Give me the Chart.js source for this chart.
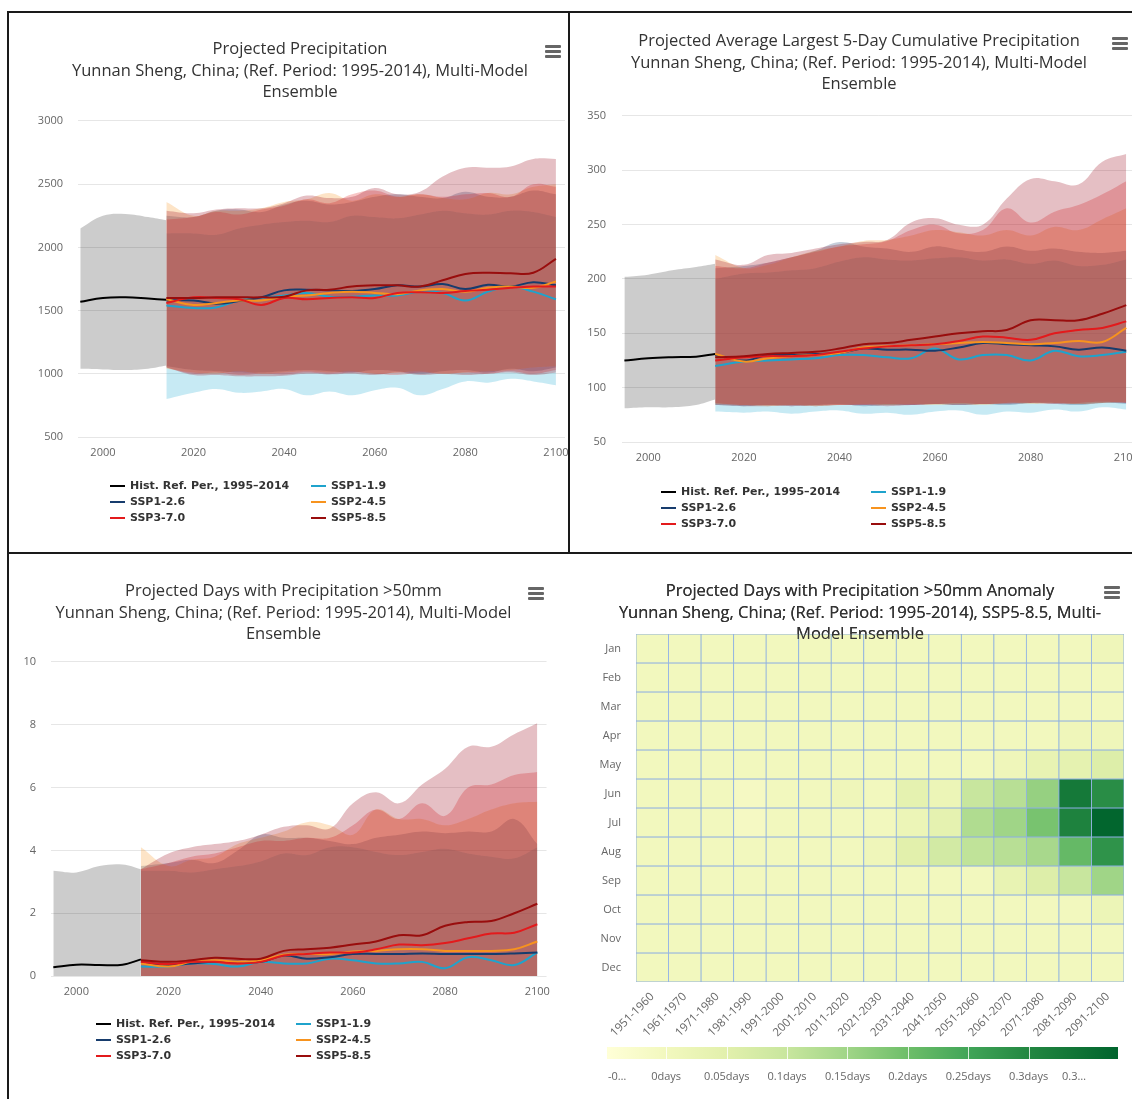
<!DOCTYPE html>
<html>
<head>
<meta charset="utf-8">
<script src="https://cdn.jsdelivr.net/npm/chart.js@4.4.1/dist/chart.umd.min.js"></script>
<style>
  html, body { margin: 0; padding: 0; background: #fff; overflow: hidden; }
  body { width: 1132px; height: 1099px; position: relative; font-family: 'Open Sans', sans-serif; }
  canvas { position: absolute; }
  .rule { position: absolute; background: #1a1a1a; }
  .menu { position: absolute; width: 16px; }
  .menu i { display: block; height: 3px; margin-bottom: 2px; background: #666; border-radius: 1px; }
  .legend { position: absolute; display: grid; font: bold 11px 'DejaVu Sans', sans-serif; color: #333; line-height: 16px; }
  .legend span { display: flex; align-items: center; white-space: nowrap; }
  .legend b { display: inline-block; width: 15px; height: 2px; margin-right: 5px; }
  .cb { position: absolute; left: 607px; top: 1047px; width: 511px; height: 12px; }
  .cb i { position: absolute; top: 0; width: 1px; height: 12px; background: rgba(255,255,255,0.8); }
  .cb-label { position: absolute; top: 1068px; font-size: 11px; line-height: 15px; color: #666; white-space: nowrap; }
</style>
</head>
<body>
<div class="rule" style="left:7px;top:11px;width:1125px;height:2px"></div>
<div class="rule" style="left:7px;top:11px;width:2px;height:1088px"></div>
<div class="rule" style="left:568px;top:11px;width:2px;height:543px"></div>
<div class="rule" style="left:7px;top:552px;width:1125px;height:2px"></div>

<canvas id="c1" width="584" height="541" style="left:8px;top:12px"></canvas>
<canvas id="c2" width="578" height="541" style="left:570px;top:12px"></canvas>
<canvas id="c3" width="551" height="544" style="left:8px;top:555px"></canvas>
<canvas id="c4" width="580" height="544" style="left:570px;top:555px"></canvas>

<div class="menu" style="left:545px;top:45px"><i></i><i></i><i></i></div>
<div class="menu" style="left:1112px;top:37px"><i></i><i></i><i></i></div>
<div class="menu" style="left:528px;top:587px"><i></i><i></i><i></i></div>
<div class="menu" style="left:1104px;top:586px"><i></i><i></i><i></i></div>

<div id="cb" class="cb"></div>

<script>
Chart.defaults.font.family = "'Open Sans', sans-serif";

// shared x positions of the series
const histYears = [1995, 2000, 2005, 2010, 2014];
const projYears = [2014, 2020, 2025, 2030, 2035, 2040, 2045, 2050, 2055, 2060, 2065, 2070, 2075, 2080, 2085, 2090, 2095, 2100];
const xTicks = [2000, 2020, 2040, 2060, 2080, 2100];
const seriesNames = ['Hist. Ref. Per., 1995–2014', 'SSP1-1.9', 'SSP1-2.6', 'SSP2-4.5', 'SSP3-7.0', 'SSP5-8.5'];
const lineColors = ['#000000', '#1fa3cc', '#173c6d', '#f7931e', '#e31a1c', '#990d0d'];
const bandColors = ['rgba(0,0,0,0.2)', 'rgba(30,170,210,0.25)', 'rgba(23,60,109,0.25)', 'rgba(247,147,30,0.25)', 'rgba(227,26,28,0.25)', 'rgba(153,0,20,0.25)'];

// panel 1: projected precipitation (mm) -- rows: hist, 119, 126, 245, 370, 585
const prMean = [
  [1570, 1600, 1605, 1595, 1585],
  [1540, 1520, 1525, 1580, 1600, 1620, 1640, 1610, 1610, 1620, 1620, 1650, 1640, 1580, 1650, 1690, 1650, 1590],
  [1580, 1580, 1555, 1575, 1605, 1660, 1665, 1660, 1655, 1670, 1700, 1690, 1710, 1670, 1705, 1690, 1725, 1700],
  [1590, 1545, 1560, 1580, 1580, 1610, 1620, 1640, 1650, 1640, 1630, 1660, 1670, 1650, 1680, 1690, 1680, 1730],
  [1560, 1605, 1600, 1590, 1545, 1600, 1590, 1600, 1605, 1600, 1640, 1645, 1640, 1655, 1665, 1680, 1690, 1690],
  [1600, 1600, 1605, 1605, 1605, 1610, 1660, 1665, 1690, 1700, 1700, 1690, 1740, 1790, 1800, 1795, 1800, 1910]
];
const prHigh = [
  [2150, 2250, 2265, 2240, 2215],
  [2110, 2110, 2100, 2150, 2180, 2200, 2210, 2200, 2250, 2240, 2230, 2260, 2290, 2270, 2260, 2290, 2280, 2240],
  [2250, 2240, 2290, 2300, 2280, 2340, 2370, 2340, 2360, 2400, 2420, 2400, 2390, 2440, 2400, 2400, 2450, 2420],
  [2360, 2250, 2290, 2290, 2310, 2360, 2380, 2430, 2370, 2420, 2400, 2420, 2390, 2380, 2430, 2420, 2480, 2500],
  [2220, 2240, 2280, 2260, 2300, 2330, 2380, 2350, 2420, 2450, 2400, 2420, 2400, 2420, 2430, 2400, 2500, 2480],
  [2290, 2270, 2300, 2310, 2310, 2350, 2410, 2390, 2400, 2470, 2420, 2440, 2560, 2630, 2630, 2640, 2700, 2700]
];
const prLow = [
  [1040, 1035, 1030, 1040, 1065],
  [800, 850, 880, 850, 860, 880, 830, 860, 830, 870, 890, 830, 880, 940, 930, 960, 940, 910],
  [1060, 1030, 1020, 1010, 1010, 1020, 1030, 1020, 1010, 1030, 1020, 1000, 1020, 1030, 1010, 1040, 1020, 1050],
  [1040, 1010, 1000, 1020, 1000, 1010, 1020, 1010, 1020, 1000, 1010, 1020, 1000, 1010, 1020, 1030, 1050, 1060],
  [1050, 1000, 1010, 990, 1000, 995, 1010, 1000, 1010, 1000, 990, 1010, 1000, 1010, 1000, 1020, 1000, 1030],
  [1050, 990, 990, 980, 980, 985, 1000, 995, 1000, 990, 1010, 990, 1000, 990, 1000, 1010, 990, 1010]
];

// panel 2: average largest 5-day cumulative precipitation (mm)
const rx5Mean = [
  [125, 127, 128, 128.5, 131],
  [120, 124, 125, 126, 127, 130, 130, 128, 127, 136, 126, 130, 130, 125, 134, 129, 130, 133],
  [130, 125, 130, 130, 131, 132, 136, 135, 135, 134, 137, 141, 140, 139, 138, 135, 137, 134],
  [131, 124, 127, 129, 130, 132, 137, 138, 139, 140, 141, 142, 141, 140, 141, 143, 142, 155],
  [125, 128, 129, 129, 130, 133, 136, 138, 139, 140, 143, 147, 146, 144, 150, 153, 155, 161],
  [128, 129, 131, 132, 133, 136, 140, 141, 144, 147, 150, 152, 153, 162, 162, 162, 168, 176]
];
const rx5High = [
  [202, 204, 208, 211, 214],
  [200, 205, 206, 208, 210, 216, 220, 218, 217, 219, 220, 217, 218, 214, 217, 212, 213, 218],
  [210, 212, 215, 220, 226, 234, 230, 228, 225, 230, 227, 225, 230, 226, 228, 225, 224, 226],
  [222, 210, 213, 220, 226, 230, 235, 236, 240, 245, 243, 240, 245, 240, 248, 245, 255, 265],
  [212, 210, 215, 220, 225, 230, 232, 235, 245, 250, 242, 245, 265, 252, 262, 268, 278, 290],
  [218, 213, 222, 224, 228, 232, 234, 236, 252, 256, 250, 250, 274, 292, 290, 287, 308, 315]
];
const rx5Low = [
  [81, 82, 82, 84, 89],
  [78, 77, 78, 76, 78, 79, 76, 77, 75, 78, 79, 75, 78, 77, 80, 78, 82, 80],
  [84, 83, 84, 83, 84, 85, 83, 84, 84, 85, 84, 85, 84, 86, 85, 84, 86, 85],
  [85, 84, 83, 84, 83, 84, 85, 84, 85, 84, 85, 84, 86, 85, 86, 85, 86, 87],
  [86, 84, 84, 83, 84, 84, 84, 85, 84, 85, 86, 85, 86, 86, 85, 86, 87, 86],
  [84, 83, 83, 84, 83, 84, 84, 83, 84, 85, 84, 85, 85, 86, 86, 85, 86, 86]
];

// panel 3: days with precipitation > 50mm
const r50Mean = [
  [0.28, 0.36, 0.35, 0.36, 0.53],
  [0.3, 0.3, 0.4, 0.38, 0.3, 0.45, 0.4, 0.4, 0.55, 0.5, 0.4, 0.4, 0.45, 0.25, 0.6, 0.5, 0.35, 0.75],
  [0.45, 0.35, 0.4, 0.45, 0.45, 0.45, 0.65, 0.55, 0.6, 0.7, 0.7, 0.7, 0.72, 0.7, 0.7, 0.7, 0.72, 0.75],
  [0.4, 0.3, 0.45, 0.5, 0.45, 0.5, 0.68, 0.7, 0.7, 0.78, 0.8, 0.85, 0.85, 0.8, 0.8, 0.8, 0.85, 1.1],
  [0.45, 0.38, 0.45, 0.45, 0.4, 0.45, 0.65, 0.7, 0.75, 0.75, 0.85, 1.0, 0.98, 1.05, 1.2, 1.35, 1.38, 1.65],
  [0.5, 0.45, 0.5, 0.58, 0.55, 0.55, 0.8, 0.85, 0.9, 1.0, 1.1, 1.3, 1.3, 1.6, 1.72, 1.75, 2.0, 2.3]
];
const r50High = [
  [3.35, 3.3, 3.5, 3.55, 3.4],
  [3.35, 3.35, 3.3, 3.4, 3.5, 3.65, 3.9, 3.85, 4.1, 4.1, 3.95, 3.85, 3.95, 4.05, 3.9, 3.8, 3.75, 4.1],
  [3.5, 3.6, 3.7, 3.6, 4.0, 4.5, 4.4, 4.4, 4.3, 4.2, 4.4, 4.5, 4.6, 4.55, 4.6, 4.6, 5.0, 4.2],
  [4.1, 3.5, 3.7, 3.8, 4.2, 4.4, 4.6, 4.9, 4.8, 4.5, 5.3, 5.0, 5.0, 4.8, 5.0, 5.3, 5.5, 5.55],
  [3.4, 3.6, 3.8, 3.9, 4.1, 4.3, 4.3, 4.4, 4.4, 4.8, 5.3, 5.0, 5.5, 5.1, 6.0, 6.1, 6.4, 6.5],
  [3.4, 3.9, 4.1, 4.2, 4.3, 4.5, 4.75, 4.8, 4.7, 5.5, 5.85, 5.5, 6.1, 6.6, 7.3, 7.3, 7.7, 8.05]
];
const r50Low = [
  [0, 0, 0, 0, 0],
  [0, 0, 0, 0, 0, 0, 0, 0, 0, 0, 0, 0, 0, 0, 0, 0, 0, 0],
  [0, 0, 0, 0, 0, 0, 0, 0, 0, 0, 0, 0, 0, 0, 0, 0, 0, 0],
  [0, 0, 0, 0, 0, 0, 0, 0, 0, 0, 0, 0, 0, 0, 0, 0, 0, 0],
  [0, 0, 0, 0, 0, 0, 0, 0, 0, 0, 0, 0, 0, 0, 0, 0, 0, 0],
  [0, 0, 0, 0, 0, 0, 0, 0, 0, 0, 0, 0, 0, 0, 0, 0, 0, 0]
];

// panel 4: heatmap of anomaly (days), one row per month
const decades = ['1951-1960', '1961-1970', '1971-1980', '1981-1990', '1991-2000', '2001-2010', '2011-2020', '2021-2030',
  '2031-2040', '2041-2050', '2051-2060', '2061-2070', '2071-2080', '2081-2090', '2091-2100'];
const months = ['Jan', 'Feb', 'Mar', 'Apr', 'May', 'Jun', 'Jul', 'Aug', 'Sep', 'Oct', 'Nov', 'Dec'];
const anomaly = [
  [0, 0, 0, 0, 0, 0, 0, 0, 0, 0, 0, 0, 0, 0, 0.01],
  [0, 0, 0, 0, 0, 0, 0, 0, 0, 0, 0, 0, 0, 0, 0],
  [0, 0, 0, 0, 0, 0, 0, 0, 0, 0, 0, 0, 0, 0, 0],
  [0, 0, 0, 0, 0, 0, 0, 0, 0, 0, 0, 0, 0, 0.01, 0.01],
  [0, 0, 0, 0, 0, 0, 0, 0, 0, 0, 0, 0.01, 0.03, 0.04, 0.06],
  [0, 0, 0, -0.01, 0, 0, 0.01, 0, 0.04, 0.02, 0.10, 0.12, 0.16, 0.33, 0.29],
  [0, 0, 0, -0.01, 0, 0, 0, 0, 0.02, 0.04, 0.13, 0.15, 0.19, 0.31, 0.37],
  [0, 0, 0, 0, 0, 0, 0, 0.01, 0.05, 0.08, 0.11, 0.12, 0.14, 0.21, 0.28],
  [0, 0, 0, 0, 0, 0, 0, 0, 0, 0, 0, 0.03, 0.06, 0.10, 0.15],
  [0, 0, 0, 0, 0, 0, 0, 0, 0, 0, 0, 0, 0, 0, 0.02],
  [0, 0, 0, 0, 0, 0, 0, 0, 0, 0, 0, 0, 0, 0, 0],
  [0, 0, 0, 0, 0, 0, 0, 0, 0, 0, 0, 0, 0, 0, 0]
];
const colorStops = [-0.049, 0, 0.05, 0.1, 0.15, 0.2, 0.25, 0.3, 0.374];
const colorTicks = ['-0…', '0days', '0.05days', '0.1days', '0.15days', '0.2days', '0.25days', '0.3days', '0.3…'];
const stopRGB = [[255, 255, 215], [242, 248, 190], [226, 240, 172], [200, 230, 158], [160, 213, 135],
  [110, 190, 105], [65, 165, 88], [35, 135, 65], [0, 100, 45]];

function heatColor(v) {
  let i = 0;
  while (i < colorStops.length - 2 && v > colorStops[i + 1]) i++;
  const t = Math.max(0, Math.min(1, (v - colorStops[i]) / (colorStops[i + 1] - colorStops[i])));
  const c = stopRGB[i].map((a, k) => Math.round(a + (stopRGB[i + 1][k] - a) * t));
  return `rgb(${c[0]},${c[1]},${c[2]})`;
}

function pts(years, vals) {
  return vals.map((v, i) => ({ x: years[i], y: v }));
}

function buildDatasets(mean, high, low) {
  const sets = [];
  mean.forEach((m, k) => {
    const yrs = k === 0 ? histYears : projYears;
    sets.push({ data: pts(yrs, low[k]), borderWidth: 0, borderColor: 'transparent', pointRadius: 0, tension: 0.4, fill: false, order: 20 - k });
    sets.push({ data: pts(yrs, high[k]), borderWidth: 0, borderColor: 'transparent', backgroundColor: bandColors[k],
      pointRadius: 0, tension: 0.4, fill: '-1', order: 20 - k });
  });
  mean.forEach((m, k) => {
    const yrs = k === 0 ? histYears : projYears;
    sets.push({ data: pts(yrs, m), borderColor: lineColors[k], borderWidth: 2, pointRadius: 0, tension: 0.4, fill: false, order: 5 - k });
  });
  return sets;
}

function titleOpts(text, top, bottom) {
  return {
    display: true, text, color: '#333333',
    font: { size: 16.5, weight: 'normal', lineHeight: 1.303 },
    padding: { top, bottom }
  };
}

function lineChart(id, c) {
  new Chart(document.getElementById(id), {
    type: 'line',
    data: { datasets: buildDatasets(c.mean, c.high, c.low) },
    options: {
      responsive: false,
      animation: false,
      events: [],
      layout: { padding: c.pad },
      plugins: {
        legend: { display: false },
        tooltip: { enabled: false },
        title: titleOpts(c.title, c.tTop, c.tBottom)
      },
      scales: {
        x: {
          type: 'linear', min: 1994.5, max: 2102,
          grid: { display: false, drawTicks: false }, border: { display: false },
          ticks: { color: '#666', font: { size: 11 }, padding: 9, callback: v => String(v) },
          afterBuildTicks: s => { s.ticks = xTicks.map(v => ({ value: v })); },
          afterFit: s => { s.height = 30; }
        },
        y: {
          min: c.yMin, max: c.yMax,
          grid: { color: '#e6e6e6', drawTicks: false }, border: { display: false },
          ticks: { stepSize: c.yStep, color: '#666', font: { size: 11 }, padding: c.yPad, callback: v => String(v) },
          afterFit: s => { s.width = c.yWidth; }
        }
      }
    }
  });
}

lineChart('c1', {
  mean: prMean, high: prHigh, low: prLow,
  title: ['Projected Precipitation', 'Yunnan Sheng, China; (Ref. Period: 1995-2014), Multi-Model', 'Ensemble'],
  tTop: 27, tBottom: 17.5,
  pad: { left: 27, right: 27, top: 0, bottom: 86 },
  yMin: 500, yMax: 3000, yStep: 500, yPad: 15, yWidth: 43
});

lineChart('c2', {
  mean: rx5Mean, high: rx5High, low: rx5Low,
  title: ['Projected Average Largest 5-Day Cumulative Precipitation', 'Yunnan Sheng, China; (Ref. Period: 1995-2014), Multi-Model', 'Ensemble'],
  tTop: 19, tBottom: 20.5,
  pad: { left: 10, right: 10, top: 0, bottom: 81 },
  yMin: 50, yMax: 350, yStep: 50, yPad: 16, yWidth: 42
});

lineChart('c3', {
  mean: r50Mean, high: r50High, low: r50Low,
  title: ['Projected Days with Precipitation >50mm', 'Yunnan Sheng, China; (Ref. Period: 1995-2014), Multi-Model', 'Ensemble'],
  tTop: 26, tBottom: 16.5,
  pad: { left: 6, right: 6, top: 0, bottom: 93 },
  yMin: 0, yMax: 10, yStep: 2, yPad: 15, yWidth: 37
});

// title of the heatmap overlaps the cells, so draw it again on top
const titleOnTop = {
  id: 'titleOnTop',
  afterDatasetsDraw(chart) { if (chart.titleBlock) chart.titleBlock.draw(); }
};

new Chart(document.getElementById('c4'), {
  type: 'bar',
  data: {
    labels: decades,
    datasets: months.map((m, i) => ({
      label: m,
      data: decades.map(() => 1),
      backgroundColor: anomaly[i].map(heatColor),
      borderColor: '#8cafe2',
      borderWidth: 0.8,
      borderSkipped: false,
      barPercentage: 1,
      categoryPercentage: 1,
      yAxisID: 'y'
    }))
  },
  options: {
    responsive: false,
    animation: false,
    events: [],
    layout: { padding: { left: 26, right: 26, top: 0, bottom: 57 } },
    plugins: {
      legend: { display: false },
      tooltip: { enabled: false },
      title: titleOpts(['Projected Days with Precipitation >50mm Anomaly', 'Yunnan Sheng, China; (Ref. Period: 1995-2014), SSP5-8.5, Multi-', 'Model Ensemble'], 26, -11.5)
    },
    scales: {
      x: {
        stacked: true,
        grid: { display: false, drawTicks: false }, border: { display: false },
        ticks: { color: '#666', font: { size: 11.5 }, minRotation: 45, maxRotation: 45, autoSkip: false, padding: 8 },
        afterFit: s => { s.height = 60; }
      },
      y: { stacked: true, min: 0, max: 12, reverse: true, display: false },
      m: {
        type: 'category', axis: 'y', position: 'left', labels: months, offset: true,
        grid: { display: false, drawTicks: false }, border: { display: false },
        ticks: { color: '#666', font: { size: 11 }, padding: 15 },
        afterFit: s => { s.width = 40; }
      }
    }
  },
  plugins: [titleOnTop]
});

// legends
function makeLegend(left, top, colGap) {
  const el = document.createElement('div');
  el.className = 'legend';
  el.style.left = left + 'px';
  el.style.top = top + 'px';
  el.style.gridTemplateColumns = colGap + 'px auto';
  el.innerHTML = seriesNames.map((n, k) => `<span><b style="background:${lineColors[k]}"></b>${n}</span>`).join('');
  document.body.appendChild(el);
}
makeLegend(110, 478, 201);
makeLegend(661, 484, 210);
makeLegend(96, 1016, 200);

// color axis of the heatmap
const cb = document.getElementById('cb');
const cMin = colorStops[0], cMax = colorStops[colorStops.length - 1];
const pos = v => (v - cMin) / (cMax - cMin);
cb.style.background = 'linear-gradient(to right,' +
  colorStops.map((v, i) => `rgb(${stopRGB[i].join(',')}) ${(pos(v) * 100).toFixed(2)}%`).join(',') + ')';
colorStops.slice(1, -1).forEach(v => {
  const t = document.createElement('i');
  t.style.left = (pos(v) * 511) + 'px';
  cb.appendChild(t);
});
colorTicks.forEach((txt, i) => {
  const s = document.createElement('span');
  s.className = 'cb-label';
  s.textContent = txt;
  document.body.appendChild(s);
  const w = s.offsetWidth;
  let x;
  if (i === 0) x = 608;
  else if (i === colorTicks.length - 1) x = 1074 - w / 2;
  else x = 607 + pos(colorStops[i]) * 511 - w / 2;
  s.style.left = x + 'px';
});
</script>
</body>
</html>
